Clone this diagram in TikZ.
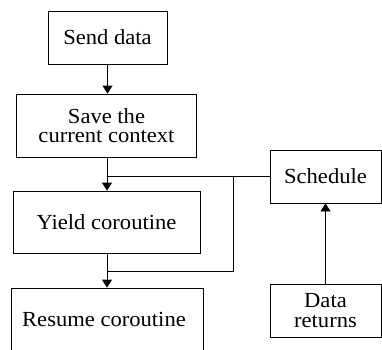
\documentclass[tikz,border=0pt]{standalone}
\usepackage{fontspec}
\setmainfont{Liberation Serif}[FakeStretch=1.05]
\usetikzlibrary{arrows.meta}
\begin{document}
\begin{tikzpicture}[x=1pt,y=-1pt,
  box/.style={draw, line width=0.8pt, inner sep=0pt, align=center, font=\fontsize{21.5}{19.5}\selectfont},
  txt/.style={inner sep=0pt, align=center, font=\fontsize{21.5}{19.5}\selectfont},
  conn/.style={line width=0.8pt},
  arr/.style={conn, -{Triangle[width=10pt,length=8pt]}}]
\useasboundingbox (0,0) rectangle (382,349);
\node[box, minimum width=119pt, minimum height=53pt] (send) at (107.5,37.5) {Send data};
\node[box, minimum width=180pt, minimum height=63pt] (save) at (106.5,125.5) {Save the\\current context};
\node[box, minimum width=187pt, minimum height=62pt] (yield) at (106.5,222) {Yield coroutine};
\node[box, minimum width=192pt, minimum height=90pt] (resume) at (107,333) {};
\node[txt] (resumetxt) at (104,319) {Resume coroutine};
\node[box, minimum width=111pt, minimum height=53pt] (sched) at (325.5,176.5) {Schedule};
\node[box, minimum width=111pt, minimum height=53pt] (data) at (325.5,310.5) {Data\\returns};
\coordinate (j1) at (107,176.5);
\coordinate (k1) at (233,176.5);
\coordinate (k2) at (233,271);
\coordinate (j2) at (107,271);
\draw[arr] (send.south) -- (save.north -| send.south);
\draw[arr] (save.south -| j1) -- (yield.north -| j1);
\draw[arr] (yield.south -| j1) -- (resume.north -| j1);
\draw[conn] (sched.west) -- (j1);
\draw[conn] (k1) -- (k2) -- (j2);
\draw[arr] (data.north) -- (sched.south);
\end{tikzpicture}
\end{document}
